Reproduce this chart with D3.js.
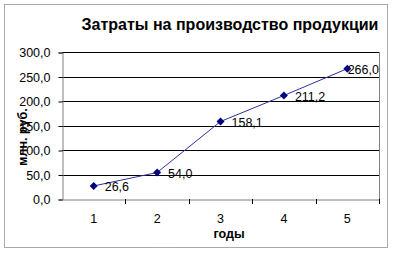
<!DOCTYPE html>
<html>
<head>
<meta charset="utf-8">
<script src="https://cdn.jsdelivr.net/npm/d3@7"></script>
<style>
  body { margin: 0; background: #fff; }
  svg { display: block; font-family: Arial, "Liberation Sans", sans-serif; }
</style>
</head>
<body>
<script>
var years = ["1", "2", "3", "4", "5"];
var costs = [26.6, 54.0, 158.1, 211.2, 266.0];
var yTicks = [0, 50, 100, 150, 200, 250, 300];
var title = "Затраты на производство продукции";
var xTitle = "годы";
var yTitle = "млн. руб.";

var width = 394, height = 254;
var plot = { left: 62, right: 379, top: 52, bottom: 199 };
var fs = "12.5px";
var fmt = function(d) { return d.toFixed(1).replace(".", ","); };

// svg canvas
var svg = d3.select("body").append("svg")
  .attr("width", width)
  .attr("height", height);

// dotted outer frame
svg.append("rect")
  .attr("x", 4.5).attr("y", 4.5)
  .attr("width", 383).attr("height", 243)
  .attr("fill", "#fff")
  .attr("stroke", "#555")
  .attr("stroke-dasharray", "1,1");

var x = d3.scaleBand().domain(years).range([plot.left, plot.right]);
var y = d3.scaleLinear().domain([0, 300]).range([plot.bottom, plot.top]);

// gridlines
svg.selectAll("line.grid")
  .data(yTicks.slice(1))
  .enter().append("line")
  .attr("class", "grid")
  .attr("x1", plot.left).attr("x2", plot.right)
  .attr("y1", function(d) { return Math.round(y(d)) + 0.5; })
  .attr("y2", function(d) { return Math.round(y(d)) + 0.5; })
  .attr("stroke", "#000");

// plot frame right side
svg.append("line")
  .attr("x1", plot.right + 0.5).attr("x2", plot.right + 0.5)
  .attr("y1", plot.top).attr("y2", plot.bottom)
  .attr("stroke", "#808080");

// y axis
var yAxis = svg.append("g")
  .attr("transform", "translate(" + (plot.left + 0.5) + ",0.5)")
  .call(d3.axisLeft(y).tickValues(yTicks).tickFormat(fmt).tickSize(4).tickPadding(8));
yAxis.select(".domain").attr("stroke", "#808080");
yAxis.selectAll(".tick line").attr("stroke", "#000");
yAxis.selectAll("text").attr("font-size", fs).attr("fill", "#000")
  .attr("font-family", "Arial, 'Liberation Sans', sans-serif");

// x axis (ticks between categories)
var xAxis = svg.append("g")
  .attr("transform", "translate(0," + (plot.bottom + 0.5) + ")")
  .call(d3.axisBottom(x).tickSize(0).tickPadding(15));
xAxis.select(".domain").attr("stroke", "#808080");
xAxis.selectAll("text").attr("font-size", fs).attr("fill", "#000")
  .attr("font-family", "Arial, 'Liberation Sans', sans-serif");
svg.selectAll("line.xtick")
  .data(years.slice(1).concat(["end"]))
  .enter().append("line")
  .attr("class", "xtick")
  .attr("x1", function(d, i) { return Math.round(plot.left + x.step() * (i + 1)) + 0.5; })
  .attr("x2", function(d, i) { return Math.round(plot.left + x.step() * (i + 1)) + 0.5; })
  .attr("y1", plot.bottom).attr("y2", plot.bottom + 5)
  .attr("stroke", "#000");

// series line
var cx = function(d, i) { return x(years[i]) + x.bandwidth() / 2; };
svg.append("path")
  .datum(costs)
  .attr("fill", "none")
  .attr("stroke", "#3030a0")
  .attr("stroke-width", 1)
  .attr("d", d3.line().x(cx).y(function(d) { return y(d); }));

// markers
svg.selectAll("path.marker")
  .data(costs)
  .enter().append("path")
  .attr("class", "marker")
  .attr("transform", function(d, i) { return "translate(" + cx(d, i) + "," + y(d) + ")"; })
  .attr("d", "M0,-4L4,0L0,4L-4,0Z")
  .attr("fill", "#000080");

// data labels, kept inside the plot
svg.selectAll("text.lbl")
  .data(costs)
  .enter().append("text")
  .attr("class", "lbl")
  .text(fmt)
  .attr("font-size", fs)
  .attr("fill", "#000")
  .attr("dy", "0.36em")
  .attr("y", function(d) { return y(d) + 1; })
  .attr("x", function(d, i) { return cx(d, i) + 11; })
  .each(function() {
    var b = this.getBBox();
    if (b.x + b.width > plot.right) d3.select(this).attr("x", plot.right - b.width);
  });

// title
svg.append("text")
  .attr("x", 230).attr("y", 30)
  .attr("text-anchor", "middle")
  .attr("font-size", "16px")
  .attr("font-weight", "bold")
  .text(title);

// axis titles
svg.append("text")
  .attr("x", 229).attr("y", 238)
  .attr("text-anchor", "middle")
  .attr("font-size", fs)
  .attr("font-weight", "bold")
  .text(xTitle);

svg.append("text")
  .attr("transform", "translate(27,137) rotate(-90)")
  .attr("text-anchor", "middle")
  .attr("font-size", fs)
  .attr("font-weight", "bold")
  .text(yTitle);
</script>
</body>
</html>
